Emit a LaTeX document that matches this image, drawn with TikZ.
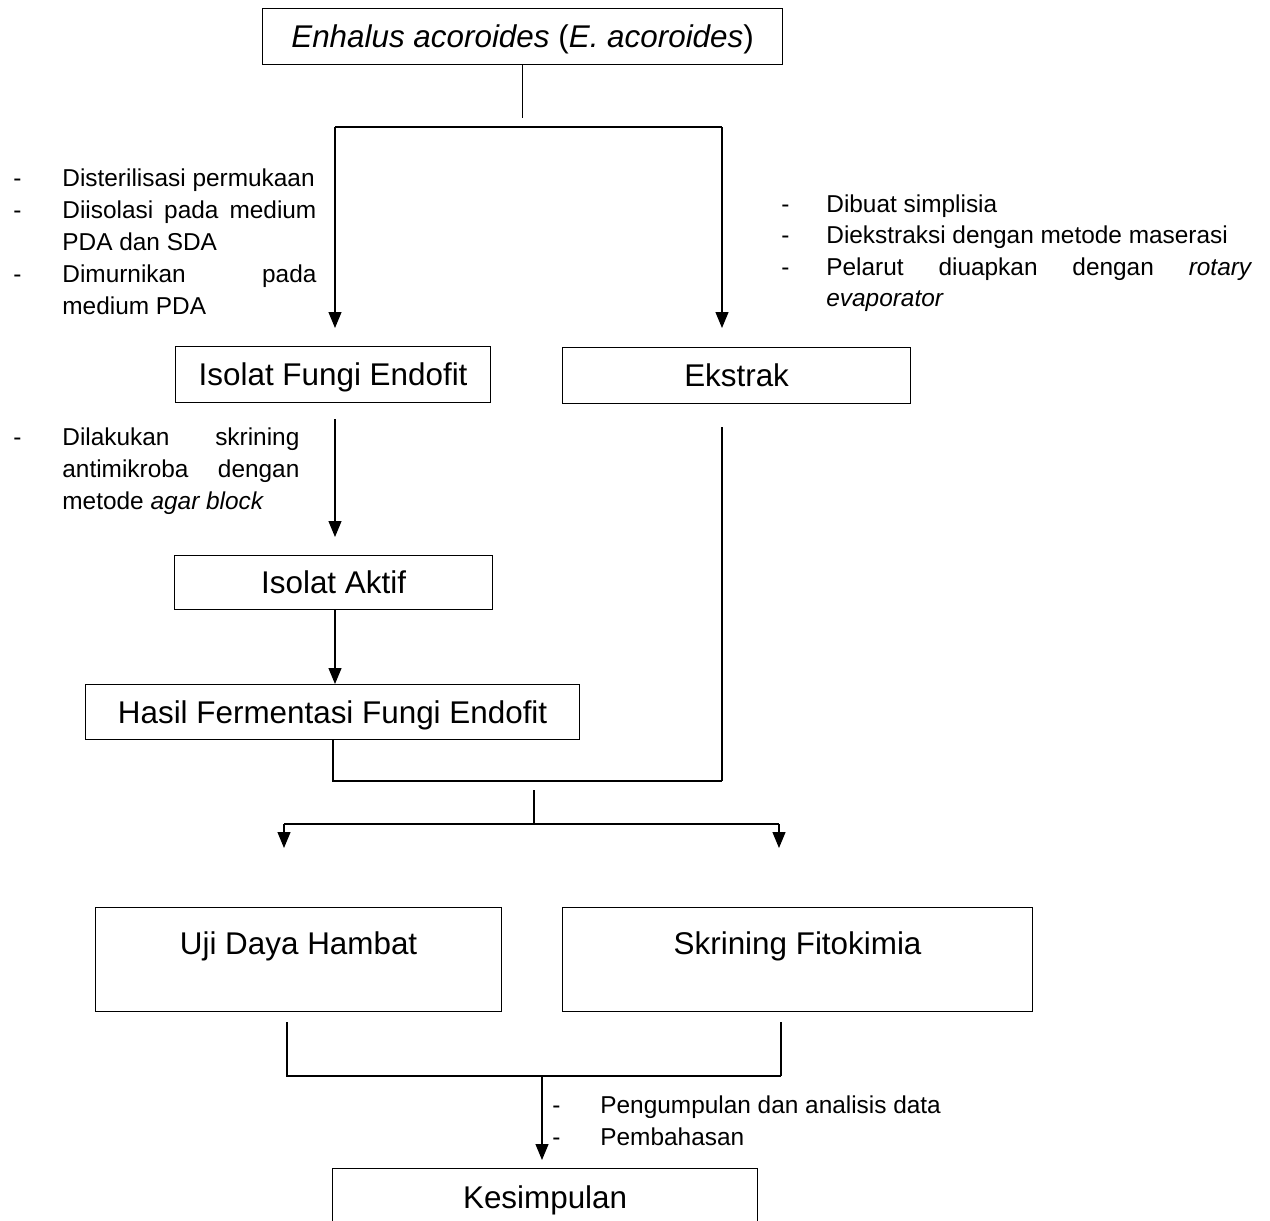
\documentclass[tikz,border=0pt]{standalone}
\usepackage{fontspec}
\setmainfont{Liberation Sans}
\usetikzlibrary{arrows.meta}
\newcommand\bxfont{\fontsize{15.7}{19}\selectfont}
\newcommand\bdfont{\fontsize{12.2}{16}\selectfont}
\tikzset{
  box/.style={draw, line width=0.6pt, inner sep=0pt, anchor=north west, font=\bxfont},
  ln/.style={anchor=base west, inner sep=0pt, font=\bdfont},
  conn/.style={line width=0.6pt},
  arr/.style={conn, -{Triangle[length=8pt,width=6.5pt]}},
}
\begin{document}
\begin{tikzpicture}[x=0.5pt,y=-0.5pt]
\useasboundingbox (0,0) rectangle (1270,1221);
\clip (0,0) rectangle (1270,1221);
\fill[white] (0,0) rectangle (1270,1221);
% boxes
\node[box, minimum width=260pt, text height=19.5pt, text depth=8.5pt] (B0) at (262,8) {\textit{Enhalus acoroides} (\textit{E. acoroides})};
\node[box, minimum width=157.5pt, text height=19.5pt, text depth=8.5pt] (B1) at (175,346) {Isolat Fungi Endofit};
\node[box, minimum width=174pt, text height=19.5pt, text depth=8.5pt] (B2) at (562,347) {Ekstrak};
\node[box, minimum width=159pt, text height=19pt, text depth=8pt] (B3) at (174,555) {Isolat Aktif};
\node[box, minimum width=247pt, text height=19.3pt, text depth=8.2pt] (B4) at (85,684) {Hasil Fermentasi Fungi Endofit};
\node[box, minimum width=203pt, text height=23.5pt, text depth=28.5pt] (B5) at (95,907) {Uji Daya Hambat};
\node[box, minimum width=235pt, text height=23.5pt, text depth=28.5pt] (B6) at (562,907) {Skrining Fitokimia};
\node[box, minimum width=212.5pt, text height=20pt, text depth=20pt] (B7) at (332,1168) {Kesimpulan};
% junction points
\coordinate (jT) at (523,127);
\coordinate (jL) at (335,127);
\coordinate (jR) at (722,127);
\coordinate (mL) at (333,781);
\coordinate (mR) at (722,781);
\coordinate (mC) at (534,781);
\coordinate (sC) at (534,824);
\coordinate (sL) at (284,824);
\coordinate (sR) at (779,824);
\coordinate (kL) at (287,1076);
\coordinate (kR) at (781,1076);
\coordinate (kC) at (542,1076);
% connectors
\draw[conn, shorten >=4.5pt] (B0.south) -- (B0.south |- jT);
\draw[conn] (jL) -- (jR);
\draw[arr, shorten >=9pt] (jL) -- (jL |- B1.north);
\draw[arr, shorten >=9.5pt] (jR) -- (jR |- B2.north);
\draw[arr, shorten <=8pt, shorten >=9pt] (jL |- B1.south) -- (jL |- B3.north);
\draw[arr] (jL |- B3.south) -- (jL |- B4.north);
\draw[conn] (mL |- B4.south) -- (mL) -- (mR);
\draw[conn, shorten <=11.5pt] (mR |- B2.south) -- (mR);
\draw[conn, shorten <=4.5pt] (mC) -- (sC);
\draw[conn] (sL) -- (sR);
\draw[arr, shorten >=29.5pt] (sL) -- (sL |- B5.north);
\draw[arr, shorten >=29.5pt] (sR) -- (sR |- B6.north);
\draw[conn, shorten <=5pt] (kL |- B5.south) -- (kL) -- (kR);
\draw[conn, shorten <=5pt] (kR |- B6.south) -- (kR);
\draw[arr, shorten >=4pt] (kC) -- (kC |- B7.north);
% annotations
\node[ln] (a1) at (13,186) {\makebox[24.5pt][l]{-}Disterilisasi permukaan};
\node[ln] (a2) at (13,218) {\makebox[24.5pt][l]{-}\makebox[127pt][s]{Diisolasi pada medium}};
\node[ln] (a3) at (62,250) {PDA dan SDA};
\node[ln] (a4) at (13,282) {\makebox[24.5pt][l]{-}\makebox[127pt][s]{Dimurnikan pada}};
\node[ln] (a5) at (62,314) {medium PDA};
\node[ln] (b1) at (781,212) {\makebox[22.5pt][l]{-}Dibuat simplisia};
\node[ln] (b2) at (781,243) {\makebox[22.5pt][l]{-}Diekstraksi dengan metode maserasi};
\node[ln] (b3) at (781,275) {\makebox[22.5pt][l]{-}\makebox[213pt][s]{Pelarut diuapkan dengan \textit{rotary}}};
\node[ln] (b4) at (826,306) {\textit{evaporator}};
\node[ln] (c1) at (13,445) {\makebox[24.5pt][l]{-}\makebox[118.5pt][s]{Dilakukan skrining}};
\node[ln] (c2) at (62,477) {\makebox[118.5pt][s]{antimikroba dengan}};
\node[ln] (c3) at (62,509) {metode \textit{agar block}};
\node[ln] (d1) at (552,1113) {\makebox[24pt][l]{-}Pengumpulan dan analisis data};
\node[ln] (d2) at (552,1145) {\makebox[24pt][l]{-}Pembahasan};
\end{tikzpicture}
\end{document}
